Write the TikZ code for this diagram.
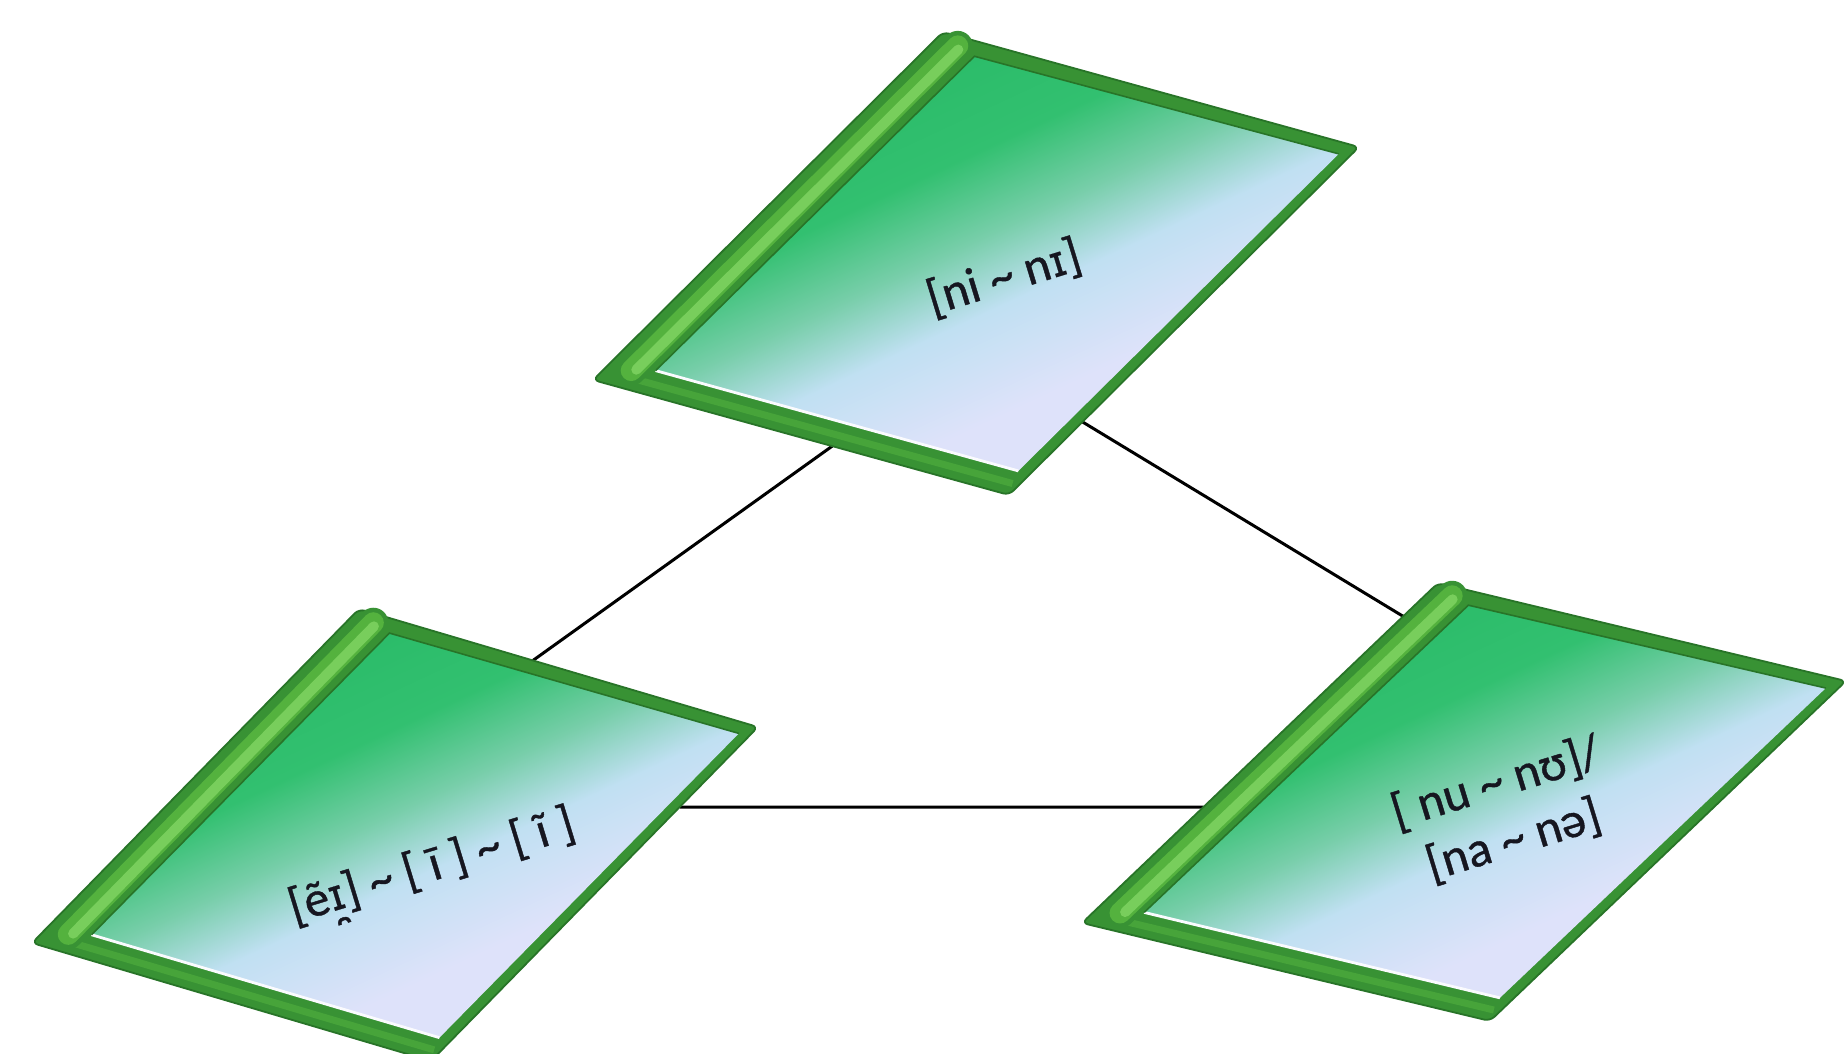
\documentclass[tikz,border=0pt]{standalone}
\usepackage{fontspec}
\usepackage{graphicx}
\setmainfont{Carlito}
\newfontfamily\lblfont{Carlito}[FakeBold=0.8]
\newfontfamily\ipafont{DejaVu Sans}[Scale=0.86, FakeBold=0.5]
\usetikzlibrary{calc}

\definecolor{frameDark}{RGB}{56,146,52}
\definecolor{frameEdge}{RGB}{40,116,40}
\definecolor{barLight}{RGB}{120,206,92}
\definecolor{barMid}{RGB}{84,178,62}
\definecolor{panelGreen}{RGB}{50,192,112}
\definecolor{panelDeep}{RGB}{40,186,102}
\definecolor{panelMint}{RGB}{120,206,170}
\definecolor{panelBlue}{RGB}{192,224,242}
\definecolor{panelLav}{RGB}{222,226,250}
\definecolor{textInk}{RGB}{22,22,32}

\pgfdeclareverticalshading{panelshade}{100bp}{color(0bp)=(panelLav); color(25bp)=(panelLav); color(36bp)=(panelLav); color(46bp)=(panelBlue); color(53bp)=(panelMint); color(61bp)=(panelGreen); color(75bp)=(panelDeep); color(100bp)=(panelDeep)}

% point at fraction (s,t) of a panel spanned by T->R and T->L
\newcommand{\defpt}[4]{\coordinate (#1) at ($(#2T)!#3!(#2R)+#4*(#2L)-#4*(#2T)$);}

% small capital I (IPA) and its non-syllabic form (inverted breve below)
\newcommand{\smallcapI}{{\ipafont ɪ}}
\newcommand{\nonsyl}[1]{\ooalign{#1\cr\hidewidth\raisebox{-0.30em}{\rotatebox[origin=c]{180}{\char"02D8}}\hidewidth\cr}}

\newcommand{\panelframe}[1]{%
  \defpt{#1a}{#1}{0}{0}
  \defpt{#1b}{#1}{1}{0}
  \defpt{#1c}{#1}{1}{1}
  \defpt{#1d}{#1}{0}{1}
  \filldraw[framebody] (#1a) -- (#1b) -- (#1c) -- (#1d) -- cycle;
  \defpt{#1e}{#1}{0.06}{0.972}
  \defpt{#1f}{#1}{0.985}{0.972}
  \draw[line width=3.5pt, barMid!55!frameDark] (#1e) -- (#1f);
  \defpt{#1g}{#1}{0.054}{0.022}
  \defpt{#1h}{#1}{0.054}{0.955}
  \defpt{#1m}{#1}{0.062}{0.03}
  \defpt{#1n}{#1}{0.062}{0.95}
  \draw[barpart, line width=15pt, frameDark] (#1g) -- (#1h);
  \draw[barpart, line width=10.5pt, barMid] (#1g) -- (#1h);
  \draw[barpart, line width=5pt, barLight] (#1m) -- (#1n);
  \defpt{#1i}{#1}{0.105}{0.035}
  \defpt{#1j}{#1}{0.975}{0.028}
  \defpt{#1k}{#1}{0.972}{0.94}
  \defpt{#1l}{#1}{0.100}{0.94}
  \shade[shading=panelshade, shading angle=25] (#1i) -- (#1j) -- (#1k) -- (#1l) -- cycle;
  \draw[line width=1.4pt, white!85!panelLav] (#1l) -- (#1k);
  \draw[line width=0.8pt, frameEdge] (#1l) -- (#1i) -- (#1j);
}

\tikzset{
  framebody/.style={fill=frameDark, draw=frameEdge, line width=0.9pt, rounded corners=3pt, line join=round},
  barpart/.style={line cap=round},
  link/.style={draw=black, line width=1.5pt},
  lbl/.style={font=\lblfont\fontsize{25}{30}\selectfont, text=textInk, rotate=17, align=center, inner sep=0pt}
}

\begin{document}
\begin{tikzpicture}[x=0.5pt, y=-0.5pt]
\path[use as bounding box, fill=white] (0,0) rectangle (1848,1054);

% panel corners (top, right, left)
\coordinate (AT) at (943,32);  \coordinate (AR) at (1359,147); \coordinate (AL) at (593,380);
\coordinate (BT) at (359,609); \coordinate (BR) at (758,727);  \coordinate (BL) at (32,943);
\coordinate (CT) at (1438,583);\coordinate (CR) at (1846,681); \coordinate (CL) at (1082,923);

% connector end points on the panel edges
\defpt{ApB}{A}{0.575}{1}
\defpt{ApC}{A}{1}{0.79}
\defpt{BpA}{B}{0.436}{0}
\defpt{BpC}{B}{1}{0.24}
\defpt{CpA}{C}{0}{0.098}
\defpt{CpB}{C}{0}{0.659}

\draw[link] (ApB) -- (BpA);
\draw[link] (ApC) -- (CpA);
\draw[link] (BpC) -- (CpB);

\panelframe{A}
\panelframe{B}
\panelframe{C}

\defpt{Ax}{A}{0.58}{0.515}
\defpt{Bx}{B}{0.64}{0.555}
\defpt{Cx}{C}{0.60}{0.50}

\node[lbl] (Atext) at (Ax) {[ni \textasciitilde{} n\smallcapI]};
\node[lbl] (Btext) at (Bx) {[ẽ\nonsyl{\smallcapI}] \textasciitilde{} [ ī ] \textasciitilde{} [ ĩ ]};
\node[lbl] (Ctext) at (Cx) {[ nu \textasciitilde{} nʊ]/\\{}[na \textasciitilde{} nə]};
\end{tikzpicture}
\end{document}
